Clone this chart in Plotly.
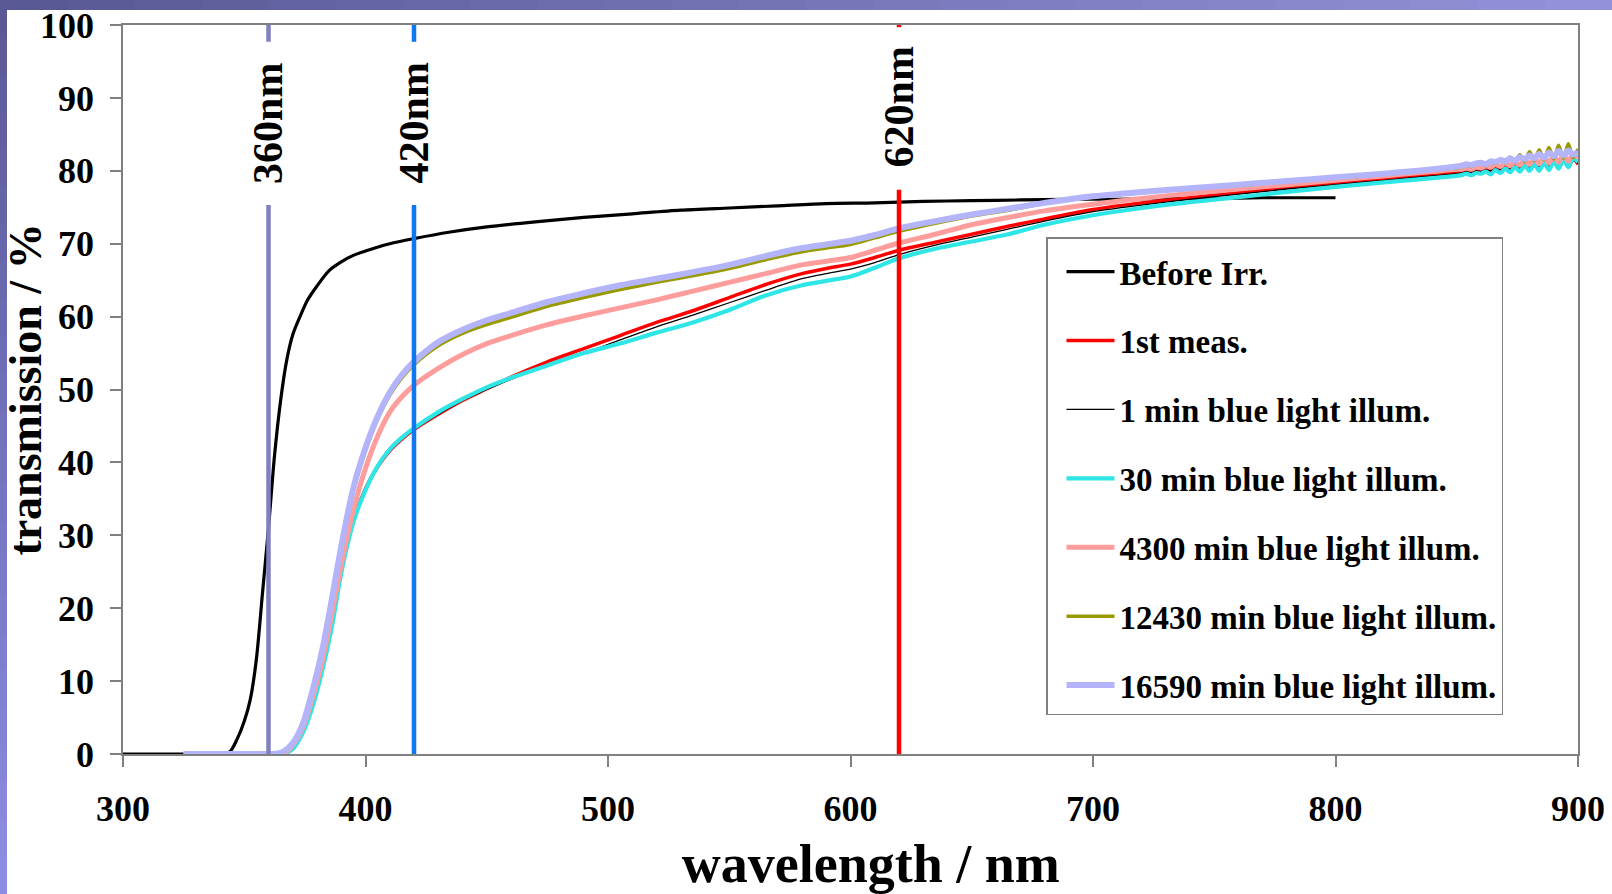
import plotly.graph_objects as go

# ---- data -----------------------------------------------------------------
# Wavelength grid (nm) for the illuminated samples, smooth part and noisy tail
wl = [325, 340, 355, 362, 366, 370, 374, 378, 382, 386,
      390, 395, 400, 405, 410, 415, 420, 430, 440, 450,
      460, 475, 490, 505, 520, 535, 550, 565, 580, 590,
      600, 610, 620, 635, 650, 665, 680, 700, 720, 740,
      760, 780, 800, 820, 840, 850]
wl_tail = [852, 854, 856, 858, 860, 862, 864, 866, 868, 870, 872, 874, 876,
           878, 880, 882, 884, 886, 888, 890, 892, 894, 896, 898, 900]

# Before irradiation (own grid, measured 300-800 nm)
wl_before = [300, 325, 340, 344, 347, 350, 352.5, 355, 357.5, 360,
             362.5, 365, 367.5, 370, 373, 376, 380, 385, 390, 395,
             400, 410, 420, 435, 450, 470, 490, 510, 530, 550,
             570, 590, 610, 630, 650, 670, 690, 710, 730, 750,
             770, 786, 800]
t_before = [0, 0, 0, 0.3, 2, 4.5, 7.5, 13, 22, 31,
            41, 48.5, 54, 57.5, 60, 62.2, 64.2, 66.3, 67.5, 68.4,
            69.0, 70.0, 70.7, 71.6, 72.3, 73.0, 73.6, 74.1, 74.6, 74.9,
            75.2, 75.5, 75.6, 75.8, 75.9, 76.0, 76.1, 76.1, 76.2, 76.2,
            76.3, 76.3, 76.3]

t_1st = [0, 0, 0, 0, 0, 0.8, 3, 6.5, 11.5, 17.5,
         25.5, 32, 36.4, 39.4, 41.6, 43.2, 44.5, 46.6, 48.5, 50.1,
         51.7, 53.8, 55.6, 57.4, 59.2, 60.8, 62.6, 64.4, 65.9, 66.6,
         67.2, 68.1, 69.1, 70.2, 71.3, 72.4, 73.4, 74.7, 75.6, 76.3,
         77.0, 77.7, 78.3, 78.9, 79.5, 79.8]
t_1st_tail = [79.9, 80.1, 79.9, 80.2, 80.1, 80.3, 80.0, 80.5, 80.2, 80.6, 80.1, 80.8, 80.2,
              81.0, 80.2, 81.1, 80.3, 81.3, 80.3, 81.5, 80.4, 81.6, 80.5, 81.7, 80.9]

t_1min = [0, 0, 0, 0, 0, 0.8, 3, 6.5, 11.5, 17.5,
          25.5, 32, 36.4, 39.4, 41.6, 43.2, 44.5, 46.6, 48.5, 50.0,
          51.4, 53.3, 55.0, 56.8, 58.6, 60.2, 61.9, 63.6, 65.2, 65.9,
          66.5, 67.4, 68.5, 69.8, 70.9, 72.0, 73.1, 74.4, 75.3, 76.1,
          76.8, 77.5, 78.1, 78.7, 79.3, 79.6]
t_1min_tail = [79.7, 79.9, 79.8, 80.0, 79.9, 80.1, 80.0, 80.3, 80.1, 80.4, 80.2, 80.6, 80.3,
               80.7, 80.4, 80.9, 80.5, 81.0, 80.6, 81.2, 80.7, 81.3, 80.8, 81.4, 81.0]

t_30min = [0, 0, 0, 0, 0, 0.7, 2.8, 6.3, 11.2, 17.2,
           24.8, 31.8, 36.2, 39.5, 41.8, 43.4, 44.7, 46.9, 48.7, 50.3,
           51.6, 53.3, 55.0, 56.3, 57.8, 59.2, 60.9, 62.9, 64.3, 64.9,
           65.5, 66.7, 68.0, 69.3, 70.3, 71.3, 72.6, 73.9, 74.9, 75.7,
           76.4, 77.1, 77.8, 78.4, 79.0, 79.3]
t_30min_tail = [79.4, 79.6, 79.4, 79.7, 79.6, 79.9, 79.5, 80.1, 79.7, 80.3, 79.8, 80.5, 79.9,
                80.7, 80.0, 80.9, 80.0, 81.1, 80.1, 81.3, 80.3, 81.5, 80.5, 81.7, 81.2]

t_4300 = [0, 0, 0, 0, 0, 1.2, 3.5, 7.5, 12.5, 19,
          26, 33.5, 39.2, 43.6, 46.9, 49.0, 50.6, 52.9, 54.8, 56.3,
          57.4, 58.9, 60.1, 61.2, 62.3, 63.5, 64.7, 65.9, 67.1, 67.6,
          68.1, 69.1, 70.1, 71.3, 72.6, 73.6, 74.5, 75.4, 76.2, 76.9,
          77.5, 78.1, 78.7, 79.3, 79.9, 80.2]
t_4300_tail = [80.2, 80.4, 80.2, 80.5, 80.4, 80.7, 80.5, 80.9, 80.6, 81.1, 80.7, 81.3, 80.8,
               81.5, 80.9, 81.7, 81.0, 81.9, 81.1, 82.0, 81.2, 82.2, 81.3, 82.3, 81.8]

t_12430 = [0, 0, 0, 0, 0.3, 1.4, 3.9, 8.3, 13.8, 20.7,
           28.2, 36.1, 41.6, 45.9, 49.2, 51.6, 53.4, 56.0, 57.7, 58.9,
           59.9, 61.4, 62.6, 63.7, 64.7, 65.6, 66.6, 67.8, 68.9, 69.4,
           69.9, 70.8, 71.7, 72.8, 73.8, 74.6, 75.5, 76.4, 77.0, 77.5,
           78.0, 78.5, 79.0, 79.5, 80.1, 80.4]
t_12430_tail = [80.5, 80.8, 80.6, 80.9, 81.0, 80.7, 81.3, 81.0, 81.6, 81.1, 81.9, 81.2, 82.2,
                81.3, 82.6, 81.4, 82.9, 81.5, 83.2, 81.6, 83.5, 81.7, 83.7, 81.8, 83.0]

t_16590 = [0, 0, 0, 0, 0.3, 1.5, 4, 8.5, 14, 21,
           28.5, 36.5, 42, 46.3, 49.6, 52.0, 53.8, 56.5, 58.2, 59.5,
           60.5, 62, 63.2, 64.3, 65.2, 66.1, 67.1, 68.3, 69.4, 69.9,
           70.4, 71.2, 72.1, 73.1, 74.0, 74.8, 75.6, 76.5, 77.1, 77.6,
           78.1, 78.6, 79.1, 79.6, 80.2, 80.6]
t_16590_tail = [80.7, 80.9, 80.8, 81.0, 81.1, 80.9, 81.3, 81.2, 81.5, 81.3, 81.7, 81.4, 81.9,
                81.6, 82.1, 81.7, 82.3, 81.8, 82.5, 82.0, 82.7, 82.1, 82.8, 82.2, 82.6]

# Marked wavelengths: (nm, colour, label centre in %, gap bottom/top in %)
marker_nm = [360, 420, 620]
marker_colors = ["#8080c0", "#0f78ee", "#ff0000"]
marker_label_y = [86.5, 86.5, 88.7]
marker_gap = [(75.3, 97.7), (75.3, 97.7), (77.4, 99.7)]

# ---- figure ---------------------------------------------------------------
SERIF = "Liberation Serif"
fig = go.Figure()

series = [
    ("Before Irr.", wl_before, t_before, "#000000", 3.2),
    ("1st meas.", wl + wl_tail, t_1st + t_1st_tail, "#ff0000", 3.5),
    ("1 min blue light illum.", wl + wl_tail, t_1min + t_1min_tail, "#000000", 1.3),
    ("30 min blue light illum.", wl + wl_tail, t_30min + t_30min_tail, "#2ee6e6", 4.2),
    ("4300 min blue light illum.", wl + wl_tail, t_4300 + t_4300_tail, "#ff9c9c", 5),
    ("12430 min blue light illum.", wl + wl_tail, t_12430 + t_12430_tail, "#999900", 3.5),
    ("16590 min blue light illum.", wl + wl_tail, t_16590 + t_16590_tail, "#b4b4fa", 6),
]
for i, (name, x, y, col, w) in enumerate(series):
    fig.add_trace(go.Scatter(
        x=x, y=y, name=name, mode="lines",
        line=dict(color=col, width=w, shape="spline", smoothing=0.8),
        legendgroup=f"g{i}",
    ))

shapes = []
annotations = []
for nm, col, ly, (g_lo, g_hi) in zip(marker_nm, marker_colors, marker_label_y, marker_gap):
    shapes.append(dict(type="line", xref="x", yref="y", x0=nm, x1=nm, y0=0, y1=g_lo,
                       line=dict(color=col, width=4.5), layer="above"))
    shapes.append(dict(type="line", xref="x", yref="y", x0=nm, x1=nm, y0=g_hi, y1=100,
                       line=dict(color=col, width=4.5), layer="above"))
    annotations.append(dict(x=nm, y=ly, xref="x", yref="y", text=f"<b>{nm}nm</b>",
                            textangle=-90, showarrow=False,
                            font=dict(family=SERIF, size=42, color="#000000")))

# slide backdrop: shaded bands along the top and left edges
L, R, T, B = 123, 34, 25, 140
W, H = 1612, 894
pw, ph = W - L - R, H - T - B


def px_x(p):
    return (p - L) / pw


def px_y(p):
    return (H - B - p) / ph


def mix(c0, c1, t):
    return "rgb({},{},{})".format(*[round(a + (b - a) * t) for a, b in zip(c0, c1)])


top_dark, top_light = (88, 88, 148), (146, 146, 218)
left_dark, left_light = (90, 88, 150), (140, 140, 226)
n = 24
for k in range(n):
    t = k / (n - 1)
    shapes.append(dict(type="rect", xref="paper", yref="paper", layer="below",
                       x0=px_x(W * k / n), x1=px_x(W * (k + 1) / n + 1),
                       y0=px_y(10), y1=px_y(0), line=dict(width=0),
                       fillcolor=mix(top_dark, top_light, t)))
    shapes.append(dict(type="rect", xref="paper", yref="paper", layer="below",
                       x0=px_x(0), x1=px_x(7),
                       y0=px_y(H * (k + 1) / n + 1), y1=px_y(H * k / n), line=dict(width=0),
                       fillcolor=mix(left_dark, left_light, t)))

axis_common = dict(
    showline=True, linecolor="#808080", linewidth=1.5, mirror=True,
    ticks="outside", tickcolor="#808080", tickwidth=1.5, ticklen=11,
    showgrid=False, zeroline=False, automargin=False,
    tickfont=dict(family=SERIF, size=36, color="#000000", weight="bold"),
)

fig.update_layout(
    width=W, height=H,
    margin=dict(l=L, r=R, t=T, b=B, autoexpand=False),
    paper_bgcolor="#ffffff", plot_bgcolor="#ffffff",
    xaxis=dict(range=[300, 900], dtick=100, tick0=300,
               title=dict(text="<b>\u00a0\u00a0\u00a0wavelength / nm</b>", standoff=16,
                          font=dict(family=SERIF, size=54, color="#000000")),
               ticklabelstandoff=11, **axis_common),
    yaxis=dict(range=[0, 100], dtick=10, tick0=0,
               title=dict(text="<b>transmission / %</b>", standoff=0,
                          font=dict(family=SERIF, size=46, color="#000000")),
               ticklabelstandoff=9, **axis_common),
    legend=dict(
        x=px_x(1046), y=px_y(237), xanchor="left", yanchor="top",
        bgcolor="#ffffff", bordercolor="#808080", borderwidth=1.5,
        font=dict(family=SERIF, size=33, color="#000000", weight="bold"),
        title=dict(text=" ", font=dict(size=4)),
        tracegroupgap=23, itemwidth=48, indentation=14,
        entrywidth=395, entrywidthmode="pixels",
    ),
    shapes=shapes,
    annotations=annotations,
    showlegend=True,
)

fig.write_html("out.html")
